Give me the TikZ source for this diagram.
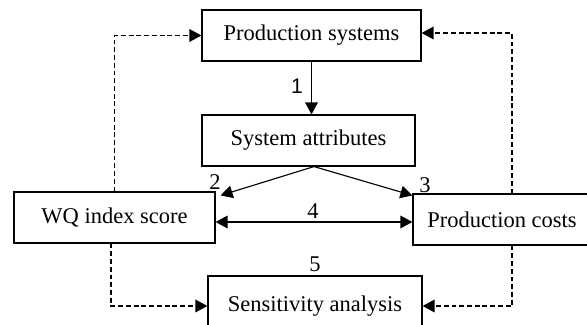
\documentclass[tikz,border=0pt]{standalone}
\usepackage{fontspec}
\setmainfont{Liberation Serif}
\setsansfont{Liberation Sans}
\usetikzlibrary{arrows.meta,calc}

\begin{document}
\begin{tikzpicture}[x=0.025cm,y=-0.025cm,
	blk/.style={draw,line width=0.8pt,inner sep=0pt,minimum height=1.275cm,font=\fontsize{16}{19}\selectfont},
	num/.style={inner sep=0pt,font=\fontsize{16}{19}\selectfont},
	arr/.style={line width=0.8pt,-{Triangle[length=8.5pt,width=9pt]}},
	arrb/.style={line width=0.8pt,{Triangle[length=8.5pt,width=9pt]}-{Triangle[length=8.5pt,width=9pt]}},
	dsh/.style={arr,dash pattern=on 3.5pt off 2pt}]

	\useasboundingbox (0,0) rectangle (587,324);
	\clip (0,0) rectangle (587,324);

	% boxes
	\node[blk,minimum width=5.475cm] (ps) at (311.5,35.5) {Production systems};
	\node[blk,minimum width=5.325cm] (sa) at (308.5,140.5) {System attributes};
	\node[blk,minimum width=5.025cm] (wq) at (114.5,217.5) {WQ index score};
	\node[blk,minimum width=4.45cm] (pc) at (502,219.5) {Production costs};
	\node[blk,minimum width=5.35cm,minimum height=1.5cm] (sn) at (315,306) {Sensitivity analysis};

	% solid arrows
	\coordinate (fork) at ($(sa.south)+(5.5,0)$);
	\coordinate (mid4) at ($(wq.east)+(0,4.5)$);
	\draw[arr] (ps.south) -- (ps.south |- sa.north);
	\draw[arr] (fork) -- ($(wq.north east)+(5,4)$);
	\draw[arr] (fork) -- ($(pc.north west)+(0,2)$);
	\draw[arrb] (mid4) -- (mid4 -| pc.west);

	% dashed feedback
	\draw[dsh] (wq.north) |- (ps.west);
	\draw[dsh] ($(pc.north)+(10,0)$) |- ($(ps.east)+(0,-2.5)$);
	\draw[dsh] ($(wq.south)+(-3.5,0)$) |- (sn.west);
	\draw[dsh] ($(pc.south)+(10,0)$) |- (sn.east);

	% labels
	\node[num,font=\sffamily\fontsize{15}{18}\selectfont] (n1) at (297,86) {1};
	\node[num] (n2) at (215,182) {2};
	\node[num] (n3) at (425,185) {3};
	\node[num] (n4) at (313,211) {4};
	\node[num] (n5) at (315,264) {5};

\end{tikzpicture}
\end{document}
